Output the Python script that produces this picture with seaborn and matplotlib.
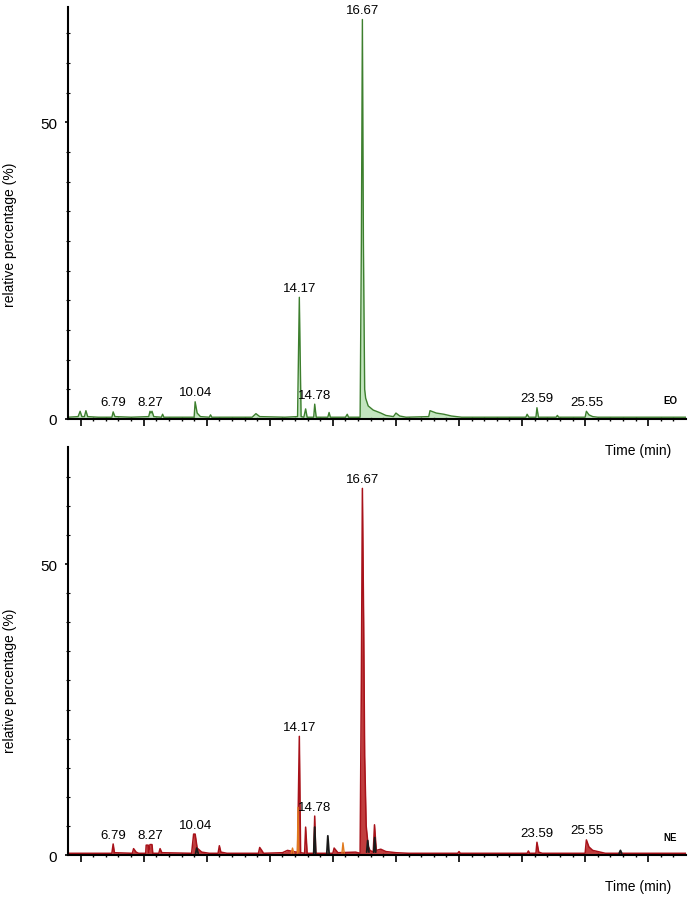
import numpy as np
import pandas as pd
import matplotlib
matplotlib.use('Agg')
import matplotlib.pyplot as plt
import seaborn as sns

# EO trace (green): time (min), relative %
eo_time = [5.0, 5.4, 5.48, 5.55, 5.65, 5.71, 5.78, 6.2, 6.74, 6.79, 6.86, 7.5,
           8.2, 8.25, 8.29, 8.33, 8.4, 8.7, 8.75, 8.8, 10.0, 10.04, 10.12, 10.25,
           10.6, 10.65, 10.7, 12.3, 12.45, 12.6, 13.6, 14.1, 14.17, 14.24, 14.35,
           14.42, 14.48, 14.74, 14.78, 14.84, 15.3, 15.35, 15.4, 16.0, 16.07, 16.12,
           16.58, 16.63, 16.67, 16.71, 16.76, 16.8, 16.9, 17.1, 17.4, 17.6, 17.9,
           18.0, 18.15, 18.4, 19.3, 19.35, 19.6, 19.9, 20.2, 20.6, 23.15, 23.2,
           23.27, 23.55, 23.59, 23.65, 24.35, 24.4, 24.45, 25.5, 25.55, 25.65,
           25.8, 26.0, 29.5]
eo_signal = [0.3, 0.4, 1.3, 0.4, 0.4, 1.4, 0.4, 0.3, 0.3, 1.2, 0.4, 0.3,
             0.4, 1.3, 1.0, 1.3, 0.4, 0.3, 0.8, 0.3, 0.3, 2.9, 1.0, 0.4,
             0.3, 0.7, 0.3, 0.3, 0.9, 0.4, 0.3, 0.4, 20.5, 0.4, 0.3,
             1.7, 0.3, 0.3, 2.5, 0.3, 0.3, 1.1, 0.3, 0.3, 0.8, 0.3,
             0.3, 30.0, 67.3, 30.0, 5.0, 3.5, 2.2, 1.5, 1.0, 0.6, 0.4,
             1.0, 0.5, 0.3, 0.4, 1.4, 1.0, 0.8, 0.5, 0.3, 0.3, 0.8,
             0.3, 0.3, 1.9, 0.3, 0.3, 0.6, 0.3, 0.3, 1.3, 0.7,
             0.4, 0.3, 0.3]

# NE trace (red)
ne_time = [5.0, 6.74, 6.79, 6.84, 7.55, 7.6, 7.7, 7.8, 8.08, 8.1, 8.18, 8.2,
           8.25, 8.33, 8.36, 8.6, 8.65, 8.72, 9.9, 9.98, 10.04, 10.12, 10.3, 10.6,
           10.95, 11.0, 11.06, 11.3, 12.55, 12.6, 12.68, 12.75, 13.5, 13.7, 14.05,
           14.1, 14.17, 14.22, 14.38, 14.42, 14.48, 14.74, 14.78, 14.82, 15.5,
           15.55, 15.7, 16.4, 16.58, 16.63, 16.67, 16.72, 16.76, 16.82, 16.9,
           16.97, 17.1, 17.15, 17.22, 17.4, 17.6, 18.0, 18.5, 20.45, 20.5, 20.55,
           23.2, 23.25, 23.3, 23.55, 23.59, 23.66, 23.8, 25.5, 25.55, 25.65, 25.8,
           26.1, 26.3, 29.5]
ne_signal = [0.3, 0.3, 1.9, 0.4, 0.3, 1.1, 0.5, 0.3, 0.3, 1.7, 1.7, 0.4,
             1.8, 1.8, 0.3, 0.3, 1.1, 0.4, 0.3, 3.6, 3.6, 1.2, 0.5, 0.3,
             0.3, 1.6, 0.5, 0.3, 0.3, 1.3, 0.8, 0.3, 0.4, 0.8, 0.5,
             0.4, 20.4, 0.4, 0.3, 4.8, 0.3, 0.3, 6.7, 0.3, 0.3,
             1.2, 0.4, 0.5, 0.3, 30.0, 63.0, 40.0, 17.0, 5.0, 1.5,
             0.8, 0.5, 5.2, 0.8, 1.0, 0.6, 0.4, 0.3, 0.3, 0.6, 0.3,
             0.3, 0.7, 0.3, 0.3, 2.2, 0.5, 0.3, 0.3, 2.6, 1.4, 0.8,
             0.5, 0.3, 0.3]

# overlaid black and orange peaks in the NE trace
ne_black_id = [1, 1, 1, 2, 2, 2, 3, 3, 3, 4, 4, 4, 5, 5, 5, 6, 6, 6]
ne_black_time = [10.06, 10.1, 10.16, 14.74, 14.78, 14.82, 15.26, 15.3, 15.35,
                 16.84, 16.88, 16.93, 17.12, 17.16, 17.2, 26.85, 26.9, 26.95]
ne_black_signal = [0.3, 1.2, 0.3, 0.3, 4.8, 0.3, 0.3, 3.3, 0.3,
                   0.5, 2.5, 0.5, 0.5, 3.0, 0.5, 0.3, 0.8, 0.3]
ne_orange_id = [1, 1, 1, 2, 2, 2, 3, 3, 3]
ne_orange_time = [13.85, 13.9, 13.95, 14.09, 14.12, 14.15, 15.86, 15.9, 15.95]
ne_orange_signal = [0.3, 1.2, 0.3, 0.3, 8.2, 0.5, 0.3, 2.1, 0.3]

# labelled peaks
peak_labels = ['6.79', '8.27', '10.04', '14.17', '14.78', '16.67', '23.59', '25.55']
peak_times = [6.79, 8.27, 10.04, 14.17, 14.78, 16.67, 23.59, 25.55]
eo_peak_heights = [1.2, 1.3, 2.9, 20.5, 2.5, 67.3, 1.9, 1.3]
ne_peak_heights = [1.9, 1.8, 3.6, 20.4, 6.7, 63.0, 2.2, 2.6]

eo_df = pd.DataFrame({'time': eo_time, 'signal': eo_signal})
ne_df = pd.DataFrame({'time': ne_time, 'signal': ne_signal})
ne_black = pd.DataFrame({'id': ne_black_id, 'time': ne_black_time, 'signal': ne_black_signal})
ne_orange = pd.DataFrame({'id': ne_orange_id, 'time': ne_orange_time, 'signal': ne_orange_signal})

sns.set_style('ticks')
plt.rcParams['font.family'] = ['Liberation Sans', 'DejaVu Sans']
plt.rcParams['text.color'] = 'black'
plt.rcParams['axes.labelcolor'] = 'black'
plt.rcParams['xtick.color'] = 'black'
plt.rcParams['ytick.color'] = 'black'
plt.rcParams['axes.edgecolor'] = 'black'

fig = plt.figure(figsize=(6.89, 9.03), dpi=100)
ax1 = fig.add_axes([0.0987, 0.5349, 0.897, 0.4562])
ax2 = fig.add_axes([0.0987, 0.0520, 0.897, 0.4518])
ax2.patch.set_visible(False)

# top panel - EO
ax1.fill_between(eo_df['time'], 0, eo_df['signal'], color='#b5dfb0', alpha=0.8, lw=0)
sns.lineplot(data=eo_df, x='time', y='signal', ax=ax1, color='#3d7f2e', lw=1.0,
             estimator=None)

# bottom panel - NE
ax2.fill_between(ne_df['time'], 0, ne_df['signal'], color='#b71c1c', alpha=0.85, lw=0)
sns.lineplot(data=ne_df, x='time', y='signal', ax=ax2, color='#a8121a', lw=1.1,
             estimator=None)
sns.lineplot(data=ne_orange, x='time', y='signal', units='id', ax=ax2,
             color='#e07a1f', lw=1.0, estimator=None)
sns.lineplot(data=ne_black, x='time', y='signal', units='id', ax=ax2,
             color='#1a1a1a', lw=1.3, estimator=None)

for ax, heights, tag, ytop, ylab_y in [(ax1, eo_peak_heights, 'EO', 69.4, 0.45),
                                       (ax2, ne_peak_heights, 'NE', 70.1, 0.43)]:
    for lab, t, h in zip(peak_labels, peak_times, heights):
        ax.annotate(lab, (t, h), xytext=(0, 2.5), textcoords='offset points',
                    ha='center', va='bottom', fontsize=9.5)
    ax.text(0.975, 0.045, tag, transform=ax.transAxes, ha='center', va='center',
            fontsize=7, fontweight='bold')
    ax.text(0.923, -0.075, 'Time (min)', transform=ax.transAxes, ha='center',
            va='center', fontsize=10)
    ax.set_xlim(5.0, 29.5)
    ax.set_ylim(0, ytop)
    ax.set_xticks(np.arange(5.5, 29.0, 2.5))
    ax.set_xticks(np.arange(5.5, 29.5, 0.5), minor=True)
    ax.set_xticklabels([])
    ax.set_yticks([0, 50])
    ax.set_yticks(np.arange(5, 70, 5), minor=True)
    ax.tick_params(axis='x', which='major', length=5, width=1.2, direction='out')
    ax.tick_params(axis='x', which='minor', length=3, width=1.0, direction='inout')
    ax.tick_params(axis='y', which='major', length=2, width=1.2, pad=6, labelsize=11)
    ax.tick_params(axis='y', which='minor', length=2.5, width=0.8, direction='inout')
    ax.set_xlabel('')
    ax.set_ylabel('relative percentage (%)', fontsize=10)
    ax.yaxis.set_label_coords(-0.083, ylab_y)
    for s in ['left', 'bottom']:
        ax.spines[s].set_linewidth(1.5)
    sns.despine(ax=ax)

fig.savefig('out.png', dpi=100)
